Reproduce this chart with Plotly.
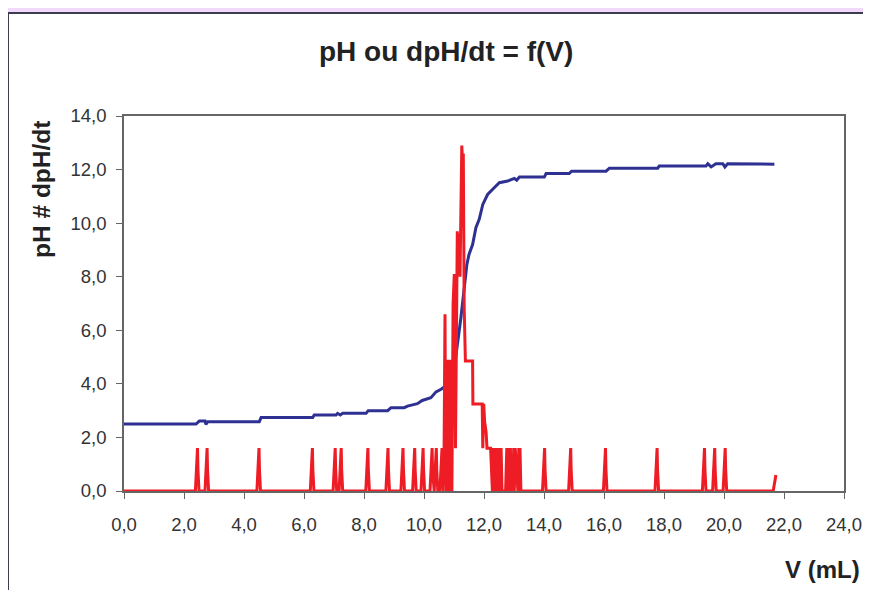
import plotly.graph_objects as go

# pH curve (blue)
v_ph = [0.00, 2.40, 2.51, 2.70, 2.73, 2.79, 4.51, 4.57, 6.29, 6.34, 7.07, 7.12, 7.21, 7.29,
        8.07, 8.14, 8.79, 8.90, 9.34, 9.45, 9.78, 9.94, 10.23, 10.40, 10.57, 10.79, 10.96,
        11.07, 11.23, 11.34, 11.43, 11.50, 11.62, 11.73, 11.84, 11.96, 12.12, 12.34, 12.51,
        12.79, 13.01, 13.09, 13.18, 14.01, 14.07, 14.84, 14.92, 16.07, 16.18, 17.79, 17.84,
        19.40, 19.46, 19.57, 19.73, 19.96, 20.03, 20.12, 21.68]
ph = [2.50, 2.50, 2.61, 2.61, 2.49, 2.59, 2.59, 2.74, 2.74, 2.84, 2.84, 2.90, 2.84, 2.90,
      2.90, 3.00, 3.00, 3.11, 3.11, 3.17, 3.26, 3.38, 3.48, 3.70, 3.80, 3.98, 4.35,
      5.10, 6.47, 7.47, 8.46, 8.83, 9.20, 9.83, 10.14, 10.70, 11.07, 11.32, 11.51,
      11.57, 11.67, 11.60, 11.72, 11.72, 11.85, 11.85, 11.94, 11.94, 12.05, 12.05, 12.13,
      12.13, 12.22, 12.10, 12.22, 12.22, 12.10, 12.22, 12.20]

# dpH/dt curve (red)
v_d = [0.00,
       2.38, 2.415, 2.43, 2.45, 2.465, 2.50,
       2.70, 2.735, 2.75, 2.77, 2.785, 2.82,
       4.43, 4.465, 4.48, 4.50, 4.515, 4.55,
       6.21, 6.245, 6.26, 6.28, 6.295, 6.33,
       6.97, 7.005, 7.02, 7.04, 7.055, 7.09,
       7.17, 7.205, 7.22, 7.24, 7.255, 7.29,
       8.06, 8.095, 8.11, 8.13, 8.145, 8.18,
       8.73, 8.765, 8.78, 8.80, 8.815, 8.85,
       9.23, 9.265, 9.28, 9.30, 9.315, 9.35,
       9.62, 9.655, 9.67, 9.69, 9.705, 9.74,
       9.90, 9.935, 9.95, 9.97, 9.985, 10.02,
       10.20, 10.235, 10.25, 10.27, 10.285, 10.32,
       10.34, 10.375, 10.39, 10.41, 10.425, 10.46,
       10.53, 10.565, 10.58, 10.60, 10.62, 10.64,
       10.67, 10.70, 10.72, 10.75, 10.78, 10.81, 10.84, 10.87, 10.90, 10.93,
       10.97, 11.01, 11.05, 11.08, 11.11, 11.14, 11.17, 11.20, 11.23, 11.26, 11.28,
       11.31, 11.34, 11.38, 11.45, 11.62, 11.63, 11.94, 11.96, 11.99, 12.02, 12.07,
       12.10, 12.22, 12.28, 12.31, 12.34, 12.37, 12.40, 12.43, 12.47, 12.51, 12.54,
       12.57, 12.60, 12.72, 12.76, 12.79, 12.82, 12.85, 12.88, 12.91, 12.96, 12.99,
       13.01, 13.04, 13.13, 13.16, 13.18, 13.20, 13.23, 13.26,
       13.95, 13.985, 14.00, 14.02, 14.035, 14.07,
       14.82, 14.855, 14.87, 14.89, 14.905, 14.94,
       15.98, 16.015, 16.03, 16.05, 16.065, 16.10,
       17.70, 17.735, 17.75, 17.77, 17.785, 17.82,
       19.28, 19.315, 19.33, 19.35, 19.365, 19.40,
       19.62, 19.655, 19.67, 19.69, 19.705, 19.74,
       19.97, 20.005, 20.02, 20.04, 20.055, 20.09,
       21.64, 21.73]
dph = [0.0,
       0.0, 0.8, 1.6, 1.6, 0.8, 0.0,
       0.0, 0.8, 1.6, 1.6, 0.8, 0.0,
       0.0, 0.8, 1.6, 1.6, 0.8, 0.0,
       0.0, 0.8, 1.6, 1.6, 0.8, 0.0,
       0.0, 0.8, 1.6, 1.6, 0.8, 0.0,
       0.0, 0.8, 1.6, 1.6, 0.8, 0.0,
       0.0, 0.8, 1.6, 1.6, 0.8, 0.0,
       0.0, 0.8, 1.6, 1.6, 0.8, 0.0,
       0.0, 0.8, 1.6, 1.6, 0.8, 0.0,
       0.0, 0.8, 1.6, 1.6, 0.8, 0.0,
       0.0, 0.8, 1.6, 1.6, 0.8, 0.0,
       0.0, 0.8, 1.6, 1.6, 0.8, 0.0,
       0.0, 0.8, 1.6, 1.6, 0.8, 0.0,
       0.0, 0.8, 1.6, 1.6, 0.8, 0.0,
       1.6, 6.6, 1.6, 0.0, 4.9, 1.6, 0.0, 4.9, 1.6, 0.0,
       7.0, 8.1, 1.6, 8.0, 9.7, 8.2, 9.6, 8.0, 11.9, 12.9, 12.4,
       12.6, 6.8, 4.85, 4.85, 4.85, 3.25, 3.25, 1.6, 3.25, 2.6, 2.2,
       1.6, 1.6, 0.0, 1.6, 0.0, 1.6, 0.0, 1.6, 0.0, 1.6, 0.0,
       1.6, 0.0, 0.0, 1.6, 0.0, 1.6, 0.0, 1.6, 0.0, 0.0, 1.6,
       0.0, 1.6, 0.0, 1.6, 0.0, 1.6, 0.0, 0.0,
       0.0, 0.8, 1.6, 1.6, 0.8, 0.0,
       0.0, 0.8, 1.6, 1.6, 0.8, 0.0,
       0.0, 0.8, 1.6, 1.6, 0.8, 0.0,
       0.0, 0.8, 1.6, 1.6, 0.8, 0.0,
       0.0, 0.8, 1.6, 1.6, 0.8, 0.0,
       0.0, 0.8, 1.6, 1.6, 0.8, 0.0,
       0.0, 0.8, 1.6, 1.6, 0.8, 0.0,
       0.0, 0.6]

x_ticks = [0, 2, 4, 6, 8, 10, 12, 14, 16, 18, 20, 22, 24]
y_ticks = [0, 2, 4, 6, 8, 10, 12, 14]

FONT = "Liberation Sans, Arial, sans-serif"

fig = go.Figure()
fig.add_trace(go.Scatter(x=v_ph, y=ph, mode="lines", line=dict(color="#2E3192", width=3),
                         showlegend=False, hoverinfo="skip"))
fig.add_trace(go.Scatter(x=v_d, y=dph, mode="lines", line=dict(color="#EE1C25", width=3),
                         showlegend=False, hoverinfo="skip"))

OFF = 7  # page offset of the rendered figure
W, H = 871, 590
L, T = 123 - OFF, 115 - OFF
pw, ph_ = 720, 375
R, B = W - L - pw, H - T - ph_

def px(x):
    return (x - OFF - L) / pw

def py(y):
    return (T + ph_ - (y - OFF)) / ph_

fig.update_layout(
    width=W, height=H,
    margin=dict(l=L, r=R, t=T, b=B),
    paper_bgcolor="#F2D9FB",
    plot_bgcolor="white",
    separators=", ",
    shapes=[
        dict(type="rect", xref="paper", yref="paper", layer="below",
             x0=px(0), x1=px(8), y0=py(620), y1=py(300),
             fillcolor="#F8CEFB", line=dict(width=0)),
        dict(type="rect", xref="paper", yref="paper", layer="below",
             x0=px(7), x1=px(900), y0=py(620), y1=py(12),
             fillcolor="white", line=dict(color="#3C3C50", width=2)),
    ],
    annotations=[
        dict(text="<b>pH ou dpH/dt = f(V)</b>", xref="paper", yref="paper",
             x=px(445), y=py(50), xanchor="center", yanchor="middle", showarrow=False,
             font=dict(family=FONT, size=28, color="#222")),
        dict(text="<b>pH # dpH/dt</b>", xref="paper", yref="paper", textangle=-90,
             x=px(40), y=py(189), xanchor="center", yanchor="middle", showarrow=False,
             font=dict(family=FONT, size=24.5, color="#222")),
        dict(text="<b>V (mL)</b>", xref="paper", yref="paper",
             x=px(821), y=py(568), xanchor="center", yanchor="middle", showarrow=False,
             font=dict(family=FONT, size=24, color="#222")),
    ],
)
fig.update_xaxes(range=[0, 24], tickvals=x_ticks, tickformat=".1f", showgrid=False, zeroline=False,
                 showline=True, linecolor="#666", linewidth=1.5, mirror=True,
                 ticks="outside", ticklen=6, tickcolor="#666", tickwidth=1,
                 ticklabelstandoff=10,
                 tickfont=dict(family=FONT, size=18.5, color="#333"))
fig.update_yaxes(range=[0, 14], tickvals=y_ticks, tickformat=".1f", showgrid=False, zeroline=False,
                 showline=True, linecolor="#666", linewidth=1.5, mirror=True,
                 ticks="outside", ticklen=6, tickcolor="#666", tickwidth=1,
                 ticklabelstandoff=6,
                 tickfont=dict(family=FONT, size=18.5, color="#333"))

fig.write_html("out.html")
